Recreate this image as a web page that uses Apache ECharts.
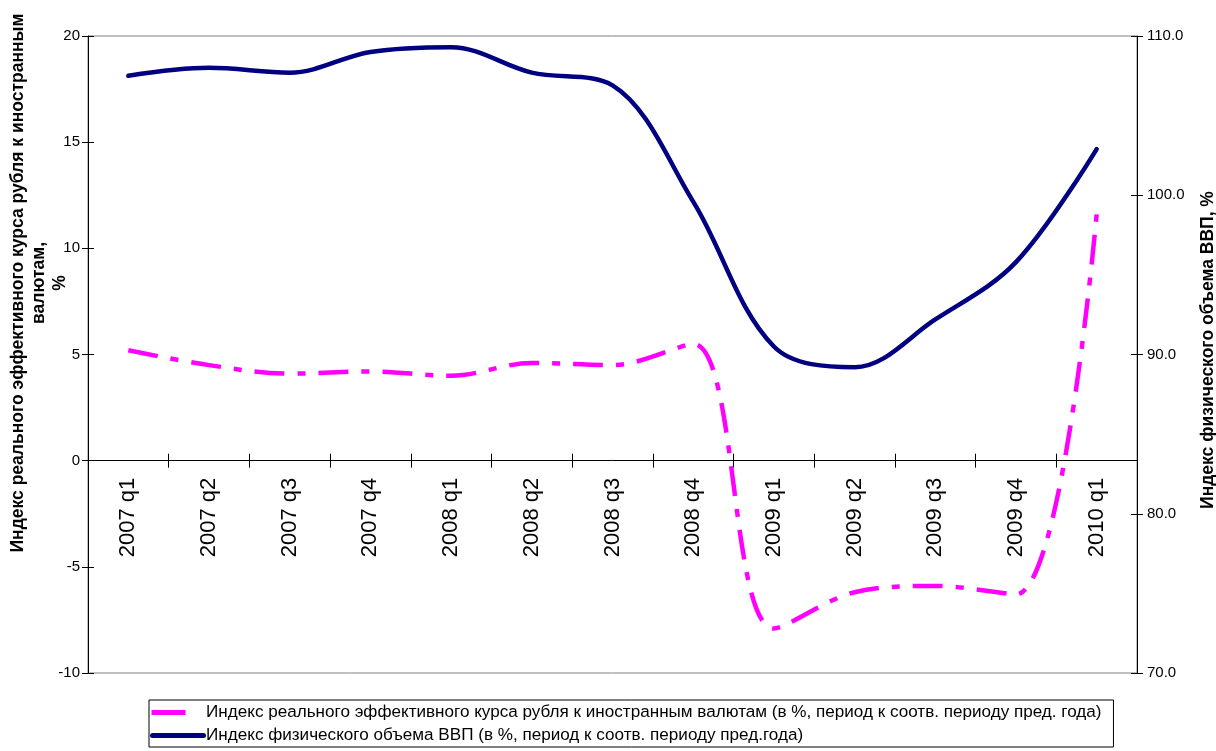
<!DOCTYPE html>
<html>
<head>
<meta charset="utf-8">
<script src="https://cdn.jsdelivr.net/npm/echarts@6/dist/echarts.min.js"></script>
<style>
html,body{margin:0;padding:0;background:#fff;}
#chart{width:1216px;height:751px;}
</style>
</head>
<body>
<div id="chart"></div>
<script>
var categories = ['2007 q1','2007 q2','2007 q3','2007 q4','2008 q1','2008 q2','2008 q3','2008 q4','2009 q1','2009 q2','2009 q3','2009 q4','2010 q1'];
var exchangeRateIndex = [5.2, 4.5, 4.1, 4.2, 4.0, 4.6, 4.5, 5.5, -7.9, -6.2, -5.9, -6.3, 11.6];
var gdpVolumeIndex = [107.5, 108.0, 107.7, 109.0, 109.3, 107.7, 106.9, 99.6, 90.5, 89.2, 92.2, 95.8, 102.9];
var leftTicks = [-10, 20, 5];
var rightTicks = [70, 110, 10];
var seriesNames = [
  'Индекс реального эффективного курса рубля к иностранным валютам (в %, период к соотв. периоду пред. года)',
  'Индекс физического объема ВВП (в %, период к соотв. периоду пред.года)'
];
var leftAxisTitle = 'Индекс реального эффективного курса рубля к иностранным\nвалютам,\n%';
var rightAxisTitle = 'Индекс физического объема ВВП, %';

var FONT = '"Liberation Sans", Arial, sans-serif';
var W = 1216, H = 751;
var gridL = 88, gridR = 79, gridT = 36, gridB = 78;
var plotH = H - gridT - gridB;
// move the category axis up to the zero line of the left value axis
var zeroOffset = -plotH * (0 - leftTicks[0]) / (leftTicks[1] - leftTicks[0]);

var chart = echarts.init(document.getElementById('chart'));
var axisCol = '#000';
chart.setOption({
  animation: false,
  backgroundColor: '#fff',
  grid: {left: gridL, right: gridR, top: gridT, bottom: gridB, containLabel: false, outerBoundsMode: 'none',
         show: true, borderColor: '#808080', borderWidth: 1, backgroundColor: 'transparent'},
  xAxis: [{
    type: 'category', data: categories, boundaryGap: true, position: 'bottom', offset: zeroOffset,
    axisLine: {onZero: false, lineStyle: {color: axisCol, width: 1}},
    axisTick: {show: true, length: 7, inside: false, lineStyle: {color: axisCol}},
    axisLabel: {rotate: 90, margin: 17, fontSize: 22, color: '#000', fontFamily: FONT, interval: 0},
    splitLine: {show: false}
  }, {
    type: 'category', data: categories, boundaryGap: true, position: 'bottom', offset: zeroOffset,
    axisLine: {show: false, onZero: false},
    axisTick: {show: true, length: 7, inside: true, lineStyle: {color: axisCol}},
    axisLabel: {show: false}, splitLine: {show: false}
  }],
  yAxis: [{
    type: 'value', position: 'left', min: leftTicks[0], max: leftTicks[1], interval: leftTicks[2],
    axisLine: {show: true, lineStyle: {color: axisCol}},
    axisTick: {show: true, length: 6, lineStyle: {color: axisCol}},
    axisLabel: {fontSize: 15, color: '#000', fontFamily: FONT, margin: 8},
    splitLine: {show: false}
  }, {
    type: 'value', position: 'right', min: rightTicks[0], max: rightTicks[1], interval: rightTicks[2],
    axisLine: {show: true, lineStyle: {color: axisCol}},
    axisTick: {show: true, length: 6, lineStyle: {color: axisCol}},
    axisLabel: {fontSize: 15, color: '#000', fontFamily: FONT, margin: 10, formatter: function (v) { return v.toFixed(1); }},
    splitLine: {show: false}
  }, {
    type: 'value', position: 'left', min: leftTicks[0], max: leftTicks[1], interval: leftTicks[2],
    axisLine: {show: false}, axisTick: {show: true, inside: true, length: 6, lineStyle: {color: axisCol}},
    axisLabel: {show: false}, splitLine: {show: false}
  }, {
    type: 'value', position: 'right', min: rightTicks[0], max: rightTicks[1], interval: rightTicks[2],
    axisLine: {show: false}, axisTick: {show: true, inside: true, length: 6, lineStyle: {color: axisCol}},
    axisLabel: {show: false}, splitLine: {show: false}
  }],
  legend: {
    orient: 'vertical', left: 149, top: 700, itemGap: 2, itemWidth: 56, itemHeight: 5,
    padding: [2, 12, 1, 1], borderColor: '#000', borderWidth: 1, borderRadius: 0,
    textStyle: {fontSize: 17.1, color: '#000', fontFamily: FONT, padding: [0, 0, 0, -5], lineHeight: 21},
    data: [
      {name: seriesNames[0], icon: 'path://M3,0H37V5H3Z M55.9,2.4H56V2.6H55.9Z'},
      {name: seriesNames[1], icon: 'path://M2.5,0H53.5A2.5,2.5 0 0 1 53.5,5H2.5A2.5,2.5 0 0 1 2.5,0Z'}
    ]
  },
  series: [{
    name: seriesNames[0], type: 'line', xAxisIndex: 0, yAxisIndex: 0, data: exchangeRateIndex,
    smooth: 0.35, symbol: 'none', color: '#FF00FF',
    lineStyle: {color: '#FF00FF', width: 4.5, type: [30, 13, 8, 13], cap: 'butt'}
  }, {
    name: seriesNames[1], type: 'line', xAxisIndex: 0, yAxisIndex: 1, data: gdpVolumeIndex,
    smooth: 0.35, symbol: 'none', color: '#000080',
    lineStyle: {color: '#000080', width: 4.5, cap: 'round'}
  }],
  graphic: [{
    type: 'text', x: 39, y: 283, rotation: Math.PI / 2,
    style: {text: leftAxisTitle, font: 'bold 17.5px ' + FONT, fill: '#000', align: 'center', verticalAlign: 'middle', lineHeight: 21}
  }, {
    type: 'text', x: 1208, y: 350, rotation: Math.PI / 2,
    style: {text: rightAxisTitle, font: 'bold 17.5px ' + FONT, fill: '#000', align: 'center', verticalAlign: 'middle'}
  }]
});
</script>
</body>
</html>
